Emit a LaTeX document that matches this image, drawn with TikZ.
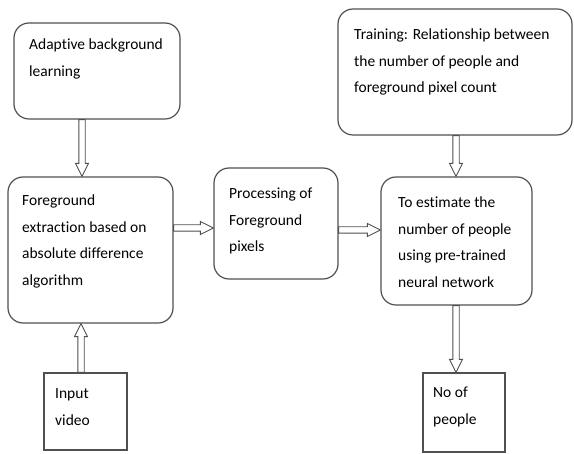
\documentclass[tikz,border=0pt]{standalone}
\usepackage{fontspec}
\setmainfont{Carlito}[Ligatures=NoCommon]
\usetikzlibrary{calc}
\definecolor{edge}{HTML}{505050}
\tikzset{
  rbox/.style={draw=edge, line width=1.2pt, rounded corners=15pt, minimum width=#1},
  sbox/.style={draw=edge, line width=1.2pt},
  txt/.style={anchor=base west, inner sep=0pt, align=left, font=\fontsize{15.5}{26.5}\selectfont},
  harrow/.style={draw=edge, line width=0.9pt, fill=white},
}
\newcommand{\hollowarrow}[2]{%
  \coordinate (H) at ($(#2)!13pt!(#1)$);
  \path[harrow] ($(#1)!3.2pt!90:(#2)$) -- ($(H)!3.2pt!-90:(#1)$) -- ($(H)!6.5pt!-90:(#1)$) -- (#2)
    -- ($(H)!6.5pt!90:(#1)$) -- ($(H)!3.2pt!90:(#1)$) -- ($(#1)!3.2pt!-90:(#2)$) -- cycle;}
\begin{document}
\begin{tikzpicture}[x=1pt,y=-1pt]
\useasboundingbox (0,0) rectangle (574,454);
% boxes
\node[rbox=166pt, minimum height=96pt] (adapt) at (97,71) {};
\node[rbox=165pt, minimum height=146pt] (fg) at (90.5,250) {};
\node[rbox=124pt, minimum height=111pt] (proc) at (276,223.5) {};
\node[rbox=151pt, minimum height=128pt] (est) at (456.5,241) {};
\node[rbox=234pt, minimum height=126pt] (train) at (455,72) {};
\node[sbox, minimum width=83pt, minimum height=77pt] (input) at (85.5,411.5) {};
\node[sbox, minimum width=82pt, minimum height=79pt] (nop) at (464,412.5) {};
% texts (anchor = baseline of last line)
\node[txt] (t1) at (29,76.5) {Adaptive background\\learning};
\node[txt] (t2) at (22,285.5) {Foreground\\extraction based on\\absolute difference\\algorithm};
\node[txt] (t3) at (229,252) {Processing of\\Foreground\\pixels};
\node[txt] (t4) at (398,287.5) {To estimate the\\number of people\\using pre-trained\\neural network};
\node[txt] (t5) at (354,93) {Training: Relationship between\\the number of people and\\foreground pixel count};
\node[txt] (t6) at (55,425.5) {Input\\video};
\node[txt] (t7) at (433,424.5) {No of\\people};
% connector reference lines
\coordinate (xa) at (82,0);
\coordinate (xb) at (81,0);
\coordinate (xc) at (456,0);
\coordinate (ya) at (0,228);
\coordinate (yb) at (0,230);
\coordinate (a1s) at (xa |- adapt.south);
\coordinate (a1e) at (xa |- fg.north);
\coordinate (a2s) at (fg.east |- ya);
\coordinate (a2e) at (proc.west |- ya);
\coordinate (a3s) at (proc.east |- yb);
\coordinate (a3e) at (est.west |- yb);
\coordinate (a4s) at (xc |- train.south);
\coordinate (a4e) at (xc |- est.north);
\coordinate (a5s) at (xb |- input.north);
\coordinate (a5e) at (xb |- fg.south);
\coordinate (a6s) at (xc |- est.south);
\coordinate (a6e) at (xc |- nop.north);
\hollowarrow{a1s}{a1e}
\hollowarrow{a2s}{a2e}
\hollowarrow{a3s}{a3e}
\hollowarrow{a4s}{a4e}
\hollowarrow{a5s}{a5e}
\hollowarrow{a6s}{a6e}
\end{tikzpicture}
\end{document}
